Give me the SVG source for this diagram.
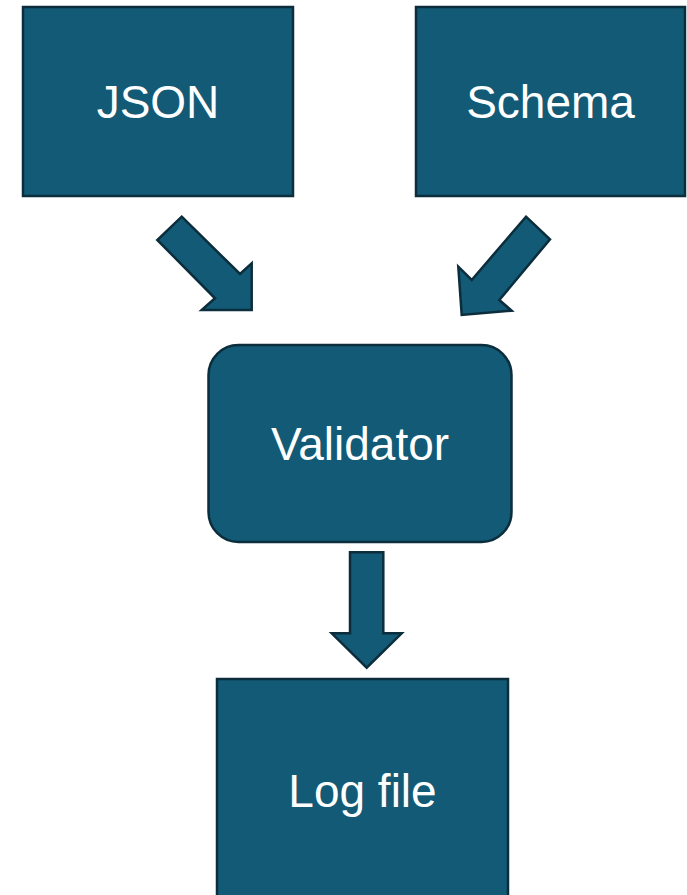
<svg xmlns="http://www.w3.org/2000/svg" width="687" height="895" viewBox="0 0 687 895">
<style>
.box{fill:#125A76;stroke:#0B2D3C;stroke-width:2.5}
.arr{fill:#125A76;stroke:#0B2D3C;stroke-width:2.5;stroke-linejoin:miter}
.lbl{fill:#ffffff;font-family:"Liberation Sans",Arial,sans-serif;font-size:46px;text-anchor:middle}
</style>
<rect width="687" height="895" fill="#ffffff"/>
<g id="connectors">
<polygon class="arr" points="181.7,216.7 240,274 251.7,263.3 251.7,310 201.7,310 215,298.3 157.3,240"/>
<polygon class="arr" points="526,216.7 550,239.3 499.3,300 511.7,310.7 461.7,315 458.3,266.7 471.7,280"/>
<polygon class="arr" points="350,552.3 383.3,552.3 383.3,633.3 401.7,633.3 366.7,667.7 331.7,633.3 350,633.3"/>
</g>
<g id="json">
<rect class="box" x="23" y="7" width="270" height="189"/>
<text class="lbl" x="158" y="118">JSON</text>
</g>
<g id="schema">
<rect class="box" x="416" y="7" width="269" height="189"/>
<text class="lbl" x="550.5" y="118">Schema</text>
</g>
<g id="validator">
<rect class="box" x="208.5" y="345" width="303" height="197" rx="30" ry="30"/>
<text class="lbl" x="360" y="460">Validator</text>
</g>
<g id="logfile">
<rect class="box" x="217" y="679" width="291" height="230"/>
<text class="lbl" x="362.5" y="807">Log file</text>
</g>
</svg>
